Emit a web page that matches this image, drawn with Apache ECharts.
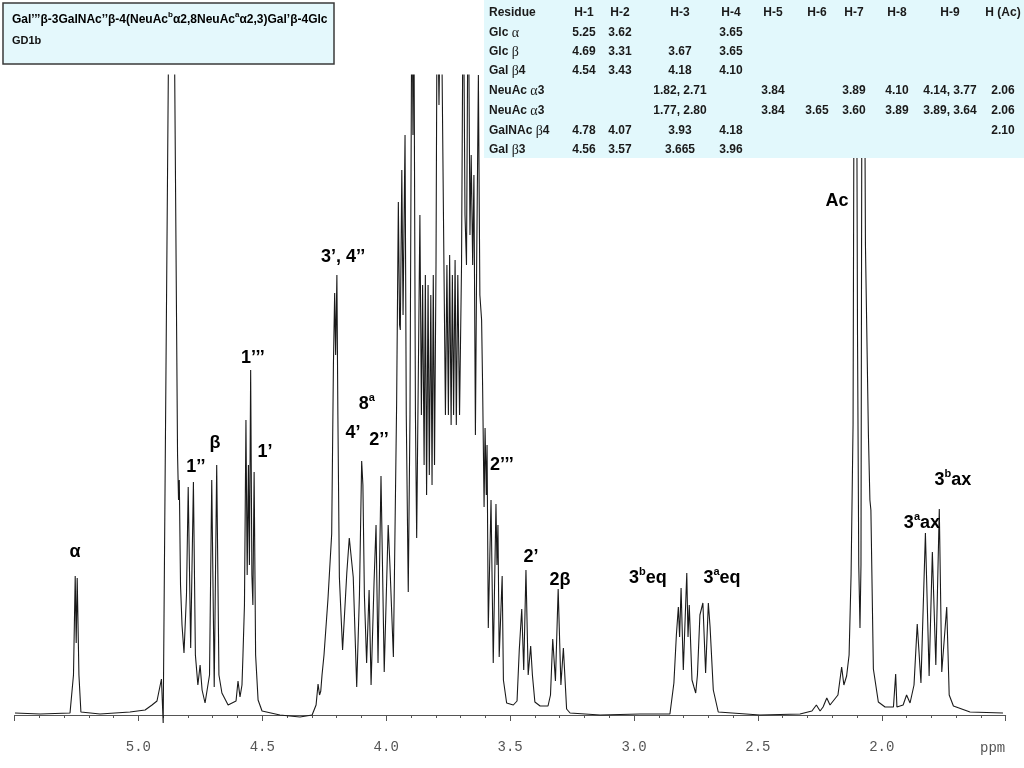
<!DOCTYPE html>
<html>
<head>
<meta charset="utf-8">
<script src="https://cdn.jsdelivr.net/npm/echarts@6/dist/echarts.min.js"></script>
<style>
  html, body { margin: 0; padding: 0; background: #fff; }
  #chart { width: 1024px; height: 768px; }
</style>
</head>
<body>
<div id="chart"></div>
<script>
// [ppm, intensity], downfield to upfield
const anomericRegion = [
  [5.498, 2], [5.397, 1], [5.276, 2], [5.272, 3], [5.262, 40], [5.255, 139], [5.251, 72], [5.247, 137],
  [5.240, 40], [5.232, 3], [5.155, 1], [5.034, 3], [4.973, 5], [4.945, 10], [4.925, 14], [4.907, 36],
  [4.900, -8], [4.866, 1055], [4.842, 260], [4.838, 215], [4.835, 235], [4.830, 130], [4.824, 90],
  [4.816, 62], [4.806, 120], [4.799, 228], [4.789, 67], [4.778, 233], [4.770, 60], [4.760, 30],
  [4.751, 50], [4.743, 25], [4.731, 12], [4.713, 40], [4.704, 235], [4.694, 28], [4.684, 250],
  [4.675, 40], [4.663, 22], [4.638, 10], [4.606, 14], [4.598, 34], [4.590, 18], [4.582, 30],
  [4.578, 60], [4.572, 110], [4.566, 295], [4.561, 140], [4.556, 250], [4.552, 150], [4.547, 345],
  [4.542, 140], [4.538, 110], [4.533, 243], [4.527, 60], [4.517, 15], [4.501, 4]
]

const ringRegion = [
  [4.429, 0], [4.348, -2], [4.299, 0], [4.283, 10], [4.275, 31], [4.269, 20], [4.264, 24], [4.259, 40],
  [4.251, 60], [4.235, 116], [4.220, 181], [4.213, 350], [4.208, 422], [4.204, 360], [4.199, 440],
  [4.195, 300], [4.189, 138], [4.176, 65], [4.159, 142], [4.149, 177], [4.133, 138], [4.119, 28],
  [4.108, 120], [4.099, 254], [4.094, 230], [4.088, 120], [4.079, 52], [4.069, 125], [4.061, 30],
  [4.049, 133], [4.041, 190], [4.033, 52], [4.021, 239], [4.015, 150], [4.008, 43], [3.992, 190],
  [3.985, 150], [3.971, 58], [3.958, 310], [3.951, 513], [3.946, 390], [3.943, 385], [3.937, 545],
  [3.932, 400], [3.924, 580], [3.919, 300], [3.911, 123], [3.904, 300], [3.896, 760], [3.892, 580],
  [3.889, 760], [3.882, 300], [3.877, 177], [3.870, 350], [3.864, 500], [3.858, 300], [3.853, 430],
  [3.847, 250], [3.842, 440], [3.837, 220], [3.831, 430], [3.826, 240], [3.820, 420], [3.815, 230],
  [3.810, 440], [3.805, 250], [3.799, 450], [3.794, 760], [3.787, 610], [3.779, 760], [3.773, 760],
  [3.767, 450], [3.761, 300], [3.755, 450], [3.749, 300], [3.744, 460], [3.738, 290], [3.733, 440],
  [3.728, 300], [3.722, 455], [3.717, 290], [3.711, 440], [3.704, 300], [3.696, 450], [3.689, 760],
  [3.682, 500], [3.676, 450], [3.669, 760], [3.662, 480], [3.657, 560], [3.651, 450], [3.646, 540],
  [3.640, 280], [3.635, 450], [3.628, 640], [3.622, 420], [3.615, 395], [3.611, 330], [3.605, 208],
  [3.601, 287], [3.596, 220], [3.593, 270], [3.588, 87], [3.577, 215], [3.568, 52], [3.557, 211],
  [3.553, 150], [3.549, 190], [3.544, 58], [3.532, 139], [3.527, 35], [3.514, 12]
]

const upfieldRegion = [
  [3.487, 10], [3.472, 14], [3.463, 65], [3.453, 106], [3.445, 45], [3.436, 145], [3.427, 40],
  [3.417, 69], [3.410, 40], [3.400, 13], [3.379, 9], [3.347, 9], [3.337, 20], [3.328, 76], [3.317, 34],
  [3.306, 126], [3.295, 30], [3.285, 67], [3.272, 6], [3.258, 2], [3.137, 0], [2.976, 1], [2.855, 1],
  [2.839, 32], [2.829, 80], [2.821, 108], [2.816, 78], [2.810, 127], [2.801, 45], [2.787, 142],
  [2.782, 78], [2.777, 110], [2.766, 35], [2.758, 28], [2.751, 22], [2.744, 40], [2.734, 100],
  [2.722, 112], [2.711, 42], [2.700, 112], [2.693, 88], [2.680, 25], [2.660, 3], [2.492, 0],
  [2.330, 1], [2.282, 4], [2.264, 10], [2.249, 4], [2.237, 8], [2.222, 17], [2.209, 10], [2.177, 20],
  [2.162, 48], [2.153, 30], [2.142, 39], [2.132, 60], [2.124, 140], [2.116, 290], [2.107, 1100],
  [2.098, 380], [2.093, 150], [2.088, 87], [2.084, 150], [2.077, 1100], [2.066, 470], [2.054, 280],
  [2.048, 215], [2.044, 205], [2.034, 46], [2.014, 13], [1.987, 8], [1.953, 8], [1.944, 41],
  [1.939, 8], [1.914, 10], [1.900, 20], [1.886, 12], [1.870, 30], [1.857, 91], [1.842, 32],
  [1.824, 182], [1.809, 39], [1.796, 163], [1.782, 50], [1.768, 206], [1.758, 43], [1.738, 108],
  [1.728, 20], [1.711, 9], [1.644, 3], [1.511, 2]
]

// assignments: [text, ppm, height]
const peakLabels = [
  ['α', 5.256, 163], ['1’’', 4.768, 248], ['β', 4.691, 272], ['1’’’', 4.538, 357], ['1’', 4.489, 263],
  ['3’, 4’’', 4.174, 458], ['8{s|a}', 4.078, 311], ['4’', 4.134, 282], ['2’’', 4.029, 275],
  ['2’’’', 3.533, 250], ['2’', 3.416, 158], ['2{g|β}', 3.299, 135], ['3{s|b}eq', 2.944, 137],
  ['3{s|a}eq', 2.645, 137], ['Ac', 2.181, 514], ['3{s|a}ax', 1.838, 192], ['3{s|b}ax', 1.713, 235]
]

const tableHead = ['Residue', 'H-1', 'H-2', 'H-3', 'H-4', 'H-5', 'H-6', 'H-7', 'H-8', 'H-9', 'H (Ac)']
const residues = ['Glc {g|α}', 'Glc {g|β}', 'Gal {g|β}4', 'NeuAc {g|α}3', 'NeuAc {g|α}3', 'GalNAc {g|β}4', 'Gal {g|β}3']
const shiftTable = [
  ['5.25', '3.62', '', '3.65', '', '', '', '', '', ''],
  ['4.69', '3.31', '3.67', '3.65', '', '', '', '', '', ''],
  ['4.54', '3.43', '4.18', '4.10', '', '', '', '', '', ''],
  ['', '', '1.82, 2.71', '', '3.84', '', '3.89', '4.10', '4.14, 3.77', '2.06'],
  ['', '', '1.77, 2.80', '', '3.84', '3.65', '3.60', '3.89', '3.89, 3.64', '2.06'],
  ['4.78', '4.07', '3.93', '4.18', '', '', '', '', '', '2.10'],
  ['4.56', '3.57', '3.665', '3.96', '', '', '', '', '', '']
]

const titleText = '{t|Gal’’’}{g|β}{t|-3GalNAc’’}{g|β}{t|-4(NeuAc}{s|b}{g|α}{t|2,8NeuAc}{s|a}{g|α}{t|2,3)Gal’}{g|β}{t|-4Glc}'
const subTitle = 'GD1b'

const spectrum = anomericRegion.concat(ringRegion, upfieldRegion)

const sans = 'Liberation Sans, Arial, sans-serif'
const colX = [584, 620, 680, 731, 773, 817, 854, 897, 950, 1003]
const rowY = [33, 52, 71, 91, 111, 131, 150]
const cellStyle = { font: 'bold 12px ' + sans, fill: '#1a1a1a' }

const graphics = [
  // title box
  { type: 'rect', z: 20, shape: { x: 3, y: 3, width: 331, height: 61 },
    style: { fill: '#e4f8fc', stroke: '#3a3a3a', lineWidth: 1.5 } },
  { type: 'text', z: 21, x: 12, y: 20,
    style: { text: titleText, verticalAlign: 'middle',
      rich: {
        t: { fontFamily: sans, fontWeight: 'bold', fontSize: 12, fill: '#000', lineHeight: 18 },
        g: { fontFamily: sans, fontWeight: 'bold', fontSize: 12, fill: '#000', lineHeight: 18 },
        s: { fontFamily: sans, fontWeight: 'bold', fontSize: 8, fill: '#000', lineHeight: 9, verticalAlign: 'top' }
      } } },
  { type: 'text', z: 21, x: 12, y: 41,
    style: { text: subTitle, font: 'bold 11px ' + sans, fill: '#111', verticalAlign: 'middle' } },
  // shift table
  { type: 'rect', z: 20, shape: { x: 484, y: 0, width: 540, height: 158 },
    style: { fill: '#e2f8fc' } },
  { type: 'text', z: 21, x: 489, y: 13,
    style: { text: tableHead[0], ...cellStyle, verticalAlign: 'middle' } },
  { type: 'text', z: 21, x: 980, y: 748,
    style: { text: 'ppm', font: '14px Liberation Mono, monospace', fill: '#555', verticalAlign: 'middle' } }
]

tableHead.slice(1).forEach((h, i) => {
  graphics.push({ type: 'text', z: 21, x: colX[i], y: 13,
    style: { text: h, ...cellStyle, align: 'center', verticalAlign: 'middle' } })
})

residues.forEach((r, j) => {
  graphics.push({ type: 'text', z: 21, x: 489, y: rowY[j],
    style: { text: r, verticalAlign: 'middle', rich: {
      g: { fontFamily: 'Liberation Serif, serif', fontSize: 14, fill: '#1a1a1a' }
    }, ...cellStyle } })
  shiftTable[j].forEach((v, i) => {
    if (!v) return
    graphics.push({ type: 'text', z: 21, x: colX[i], y: rowY[j],
      style: { text: v, ...cellStyle, align: 'center', verticalAlign: 'middle' } })
  })
})

const chart = echarts.init(document.getElementById('chart'))

chart.setOption({
  animation: false,
  grid: { left: 14.5, right: 18.3, top: 75, bottom: 38 },
  xAxis: {
    type: 'value',
    inverse: true,
    min: 1.5,
    max: 5.5,
    interval: 0.5,
    axisLine: { lineStyle: { color: '#555', width: 1 } },
    axisTick: { length: 6, lineStyle: { color: '#555' } },
    minorTick: { show: true, splitNumber: 5, length: 3, lineStyle: { color: '#555' } },
    splitLine: { show: false },
    axisLabel: {
      formatter: v => (v > 1.6 && v < 5.4) ? v.toFixed(1) : '',
      fontFamily: 'Liberation Mono, monospace',
      fontSize: 14,
      color: '#555',
      margin: 10
    }
  },
  yAxis: { type: 'value', min: -15, max: 640, show: false },
  series: [
    {
      type: 'line',
      data: spectrum,
      showSymbol: false,
      clip: true,
      lineStyle: { color: '#1a1a1a', width: 1.1 }
    },
    {
      type: 'scatter',
      data: peakLabels.map(p => ({ name: p[0], value: [p[1], p[2]] })),
      symbolSize: 1,
      itemStyle: { color: 'rgba(0,0,0,0)', opacity: 1 },
      z: 5,
      label: {
        show: true,
        position: 'inside',
        formatter: p => p.name,
        fontFamily: sans,
        fontWeight: 'bold',
        fontSize: 18,
        lineHeight: 24,
        color: '#000',
        textBorderWidth: 0,
        rich: {
          s: { fontFamily: sans, fontWeight: 'bold', fontSize: 11, lineHeight: 12, color: '#000', verticalAlign: 'top' },
          g: { fontFamily: sans, fontWeight: 'bold', fontSize: 18, lineHeight: 24, color: '#000' }
        }
      }
    }
  ],
  graphic: graphics
})
</script>
</body>
</html>
